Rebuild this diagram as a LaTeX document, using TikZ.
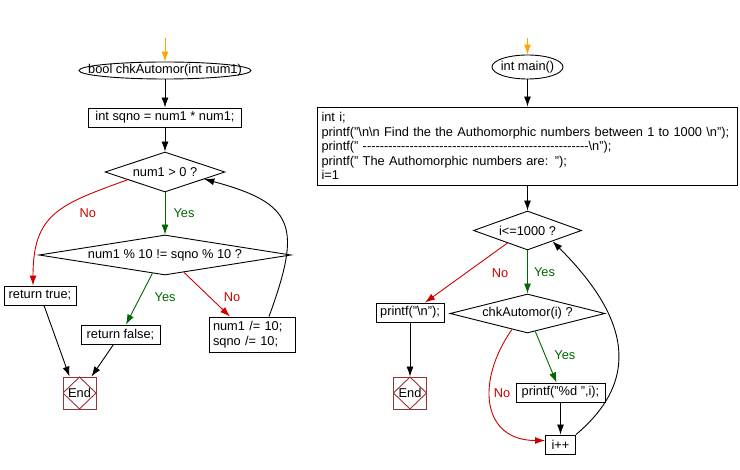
\documentclass[tikz,border=0pt]{standalone}
\usepackage{fontspec}
\setmainfont{Liberation Sans}
\usetikzlibrary{shapes.geometric,positioning,arrows.meta,calc}
\definecolor{nored}{RGB}{204,0,0}
\definecolor{yesgreen}{RGB}{0,102,0}
\definecolor{startorange}{RGB}{255,165,0}
\definecolor{endred}{RGB}{153,51,51}
\newcommand{\dashrun}[1]{\foreach \k in {1,...,#1}{-\kern0pt}}

\begin{document}
\begin{tikzpicture}[x=1pt,y=1pt,on grid,line width=0.9pt,>={Latex[length=10pt,width=7pt]},
    font=\fontsize{12.8}{14.4}\selectfont,
    box/.style={draw,rectangle,inner sep=0pt},
    term/.style={inner sep=0pt},
    cond/.style={draw,diamond,inner sep=0pt},
    endbox/.style={draw=endred,minimum width=33pt,minimum height=32pt,inner sep=0pt,
      path picture={\draw[endred] (path picture bounding box.north) -- (path picture bounding box.east)
        -- (path picture bounding box.south) -- (path picture bounding box.west) -- cycle;}},
    yes/.style={draw=yesgreen,text=yesgreen},
    no/.style={draw=nored,text=nored},
    startline/.style={draw=startorange}]
  \useasboundingbox (0,0) rectangle (740,-470);

  % chkAutomor
  \coordinate (s_1) at (165,-38);
  \node[term,minimum width=172pt,minimum height=17pt] (fn) at (165,-70.5) {bool chkAutomor(int num1)};
  \draw (fn) ellipse (86pt and 8.5pt);
  \node[box,minimum width=153pt,minimum height=19pt] (sq) [below=47pt of fn] {int sqno = num1 * num1;};
  \node[cond,aspect=3,minimum width=120pt,minimum height=40pt] (d_1) [below=54.5pt of sq] {num1 > 0 ?};
  \node[cond,aspect=6.3,minimum width=252pt,minimum height=40pt] (d_2) [below=83pt of d_1] {num1 \% 10 != sqno \% 10 ?};
  \node[box,minimum width=72pt,minimum height=19pt] (rt) [below left=40.5pt and 125pt of d_2] {return true;};
  \node[box,minimum width=79pt,minimum height=19pt] (rf) [below left=79.5pt and 44.5pt of d_2] {return false;};
  \node[box,text width=78pt,align=left,inner xsep=4pt,minimum height=35pt] (dv) [below right=79.5pt and 87pt of d_2] {num1 /= 10;\\sqno /= 10;};
  \node[endbox] (end_1) [below left=58.5pt and 41pt of rf] {End};

  \path[->]
  (s_1) edge[startline] (fn)
  (fn) edge (sq)
  (sq) edge (d_1)
  (d_1) edge[yes] node[xshift=19pt] {Yes} (d_2)
  ($(d_1.west)!.38!(d_1.south)$) edge[no,out=200,in=90,looseness=1.3] node[pos=.35,xshift=17pt,yshift=-10pt] {No} ([xshift=-7pt]rt.north)
  ($(d_2.west)!.9!(d_2.south)$) edge[yes] node[xshift=26pt,yshift=2pt] {Yes} ([xshift=5.5pt]rf.north)
  ($(d_2.south)!.15!(d_2.east)$) edge[no] node[xshift=25pt,yshift=-2.5pt] {No} ([xshift=-22pt]dv.north)
  ([xshift=17pt]dv.north) edge[out=70,in=-15,looseness=1.6] ($(d_1.east)!.35!(d_1.south)$)
  ([xshift=4pt]rt.south) edge ([xshift=-10pt]end_1.north)
  ([xshift=-7pt]rf.south) edge ([xshift=12pt]end_1.north);

  % main
  \coordinate (s_2) at (527.5,-38);
  \node[term,minimum width=71pt,minimum height=24pt] (mn) at (527.5,-67) {int main()};
  \draw (mn) ellipse (35.5pt and 12pt);
  \node[box,text width=412pt,align=left,inner xsep=4pt,minimum height=78pt] (init) [below=79pt of mn]
    {int i;\\
     printf("\textbackslash n\textbackslash n Find the the Authomorphic numbers between 1 to 1000 \textbackslash n");\\
     printf(" \dashrun{53}\textbackslash n");\\
     printf(" The Authomorphic numbers are: ");\\
     i=1};
  \node[cond,aspect=2.77,minimum width=108pt,minimum height=39pt] (d_3) [below=84.5pt of init] {i<=1000 ?};
  \node[cond,aspect=4,minimum width=155pt,minimum height=39pt] (d_4) [below=83pt of d_3] {chkAutomor(i) ?};
  \node[box,minimum width=68pt,minimum height=19pt] (pn) [below left=82pt and 117.5pt of d_3] {printf("\textbackslash n");};
  \node[endbox] (end_2) [below=80.5pt of pn] {End};
  \node[box,minimum width=89pt,minimum height=19pt] (pd) [below right=79pt and 33pt of d_4] {printf("\%d ",i);};
  \node[box,minimum width=30pt,minimum height=19pt] (inc) [below=52pt of pd] {i++};

  \path[->]
  (s_2) edge[startline] (mn)
  (mn) edge (init)
  (init) edge (d_3)
  (d_3) edge[yes] node[xshift=17pt] {Yes} (d_4)
  ($(d_3.west)!.63!(d_3.south)$) edge[no] node[xshift=34pt] {No} ([xshift=15pt]pn.north)
  (pn) edge (end_2)
  ($(d_4.south)!.1!(d_4.east)$) edge[yes] node[xshift=19pt,yshift=2pt] {Yes} ([xshift=-4pt]pd.north)
  ($(d_4.west)!.8!(d_4.south)$) edge[no,out=235,in=180,looseness=1.4] node[pos=.45,xshift=12pt,yshift=5pt] {No} ([yshift=4pt]inc.west)
  (pd) edge (inc)
  (inc.north east) edge[out=40,in=-45,looseness=1.25] ($(d_3.east)!.54!(d_3.south)$);
\end{tikzpicture}
\end{document}
